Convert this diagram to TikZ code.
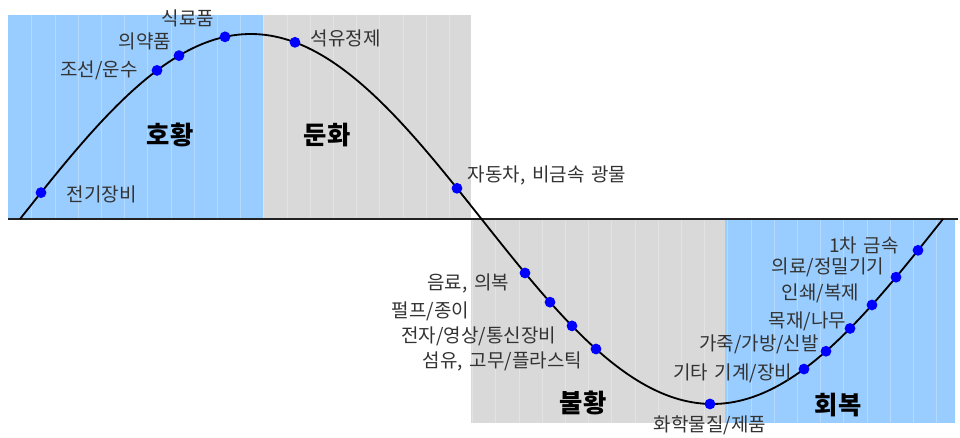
\documentclass[tikz,border=0pt]{standalone}
\usepackage{fontspec}
\setmainfont[WordSpace=1.6]{Noto Sans CJK KR}
\usepackage{tikz}
\usetikzlibrary{positioning}
\definecolor{boomblue}{HTML}{99CCFF}
\definecolor{slowgray}{HTML}{D9D9D9}
\definecolor{labelgray}{HTML}{333333}
\definecolor{axisgray}{HTML}{222222}

\begin{document}
\begin{tikzpicture}[
    x=0.025cm, y=-0.025cm,
    declare function={wave(\t)=219-185*sin((\t-20)/461.5*180);},
    gridline/.style={white, opacity=0.28, line width=0.5pt},
    cycleline/.style={black, line width=1.3pt},
    sectordot/.style={circle, fill=blue, inner sep=0pt, minimum size=0.27cm},
    sector/.style={font=\fontsize{13.5}{15}\selectfont, text=labelgray, inner sep=0pt},
    stage/.style={font=\fontsize{18}{20}\selectfont\bfseries, inner sep=0pt}
]
\useasboundingbox (0,0) rectangle (960,438);

% Phase areas
\fill[boomblue] (8,15) rectangle (263,219);
\fill[slowgray] (263,15) rectangle (471,219);
\fill[slowgray] (471,219) rectangle (725,423);
\fill[boomblue] (725,219) rectangle (955,423);
\foreach \k in {1,...,40}
    \draw[gridline] ({8.6+23.2*\k},15) -- ({8.6+23.2*\k},423);

% Axis and cycle
\draw[axisgray, line width=1.2pt] (8,219) -- (958,219);
\draw[cycleline] plot[domain=20:943, samples=200] (\x,{wave(\x)});

% Phase names
\node[stage] (boom) at (170,135) {호황};
\node[stage] (slow) at (327,135) {둔화};
\node[stage] (bust) at (583,403) {불황};
\node[stage] (recovery) at (838,405) {회복};

% ---- Upper half ----
\node[sectordot] (elec) at (41,{wave(41)}) {};
\node[sector, right=0.5cm of elec, yshift=-0.05cm] {전기장비};

\node[sectordot] (ship) at (157,{wave(157)}) {};
\node[sector, left=0.33cm of ship] {조선/운수};

\node[sectordot] (pharma) at (179,{wave(179)}) {};
\node[sector, left=0.05cm of pharma, yshift=0.35cm] {의약품};

\node[sectordot] (food) at (225,{wave(225)}) {};
\node[sector, left=0.12cm of food, yshift=0.46cm] {식료품};

\node[sectordot] (oil) at (295,{wave(295)}) {};
\node[sector, right=0.25cm of oil, yshift=0.1cm] {석유정제};

\node[sectordot] (auto) at (457,{wave(457)}) {};
\node[sector, right=0.12cm of auto, yshift=0.33cm] {자동차, 비금속 광물};

% ---- Lower half ----
\node[sectordot] (drink) at (525,{wave(525)}) {};
\node[sector, left=0.25cm of drink, yshift=-0.25cm] {음료, 의복};

\node[sectordot] (pulp) at (550,{wave(550)}) {};
\node[sector, left=1.87cm of pulp, yshift=-0.22cm] {펄프/종이};

\node[sectordot] (telecom) at (572,{wave(572)}) {};
\node[sector, left=0.25cm of telecom, yshift=-0.25cm] {전자/영상/통신장비};

\node[sectordot] (fiber) at (596,{wave(596)}) {};
\node[sector, left=0.2cm of fiber, yshift=-0.3cm] {섬유, 고무/플라스틱};

\node[sectordot] (chem) at (710,{wave(710)}) {};
\node[sector, below=0.15cm of chem] {화학물질/제품};

\node[sectordot] (machine) at (804,{wave(804)}) {};
\node[sector, left=0.15cm of machine, yshift=-0.1cm] {기타 기계/장비};

\node[sectordot] (leather) at (826,{wave(826)}) {};
\node[sector, left=0.03cm of leather, yshift=0.18cm] {가죽/가방/신발};

\node[sectordot] (wood) at (850,{wave(850)}) {};
\node[sector, left=-0.05cm of wood, yshift=0.18cm] {목재/나무};

\node[sectordot] (print) at (872,{wave(872)}) {};
\node[sector, left=0.17cm of print, yshift=0.3cm] {인쇄/복제};

\node[sectordot] (medical) at (896,{wave(896)}) {};
\node[sector, left=0.15cm of medical, yshift=0.25cm] {의료/정밀기기};

\node[sectordot] (metal) at (918,{wave(918)}) {};
\node[sector, left=0.33cm of metal, yshift=0.13cm] {1차 금속};

\end{tikzpicture}
\end{document}
